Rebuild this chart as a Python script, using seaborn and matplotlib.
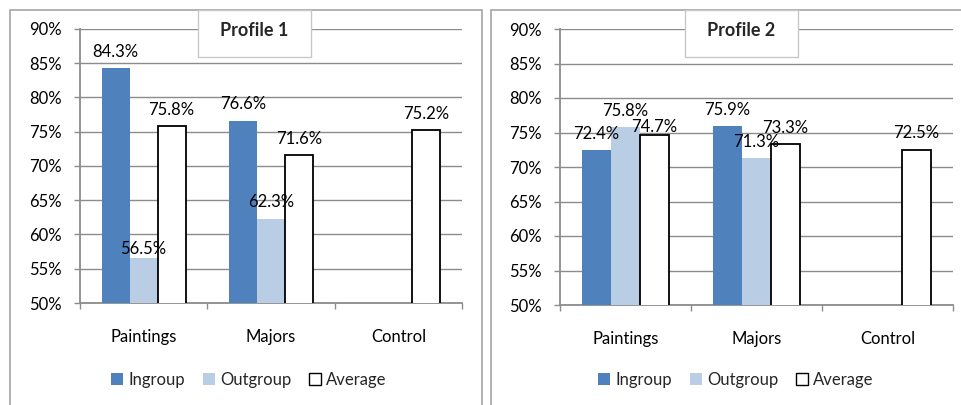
import numpy as np
import pandas as pd
import matplotlib
matplotlib.use("Agg")
import matplotlib.pyplot as plt
from matplotlib.patches import Rectangle, Patch
from matplotlib.ticker import FuncFormatter, FixedLocator
import seaborn as sns

# ---- data ----
categories = ["Paintings", "Majors", "Control"]
groups = ["Ingroup", "Outgroup", "Average"]
profile_titles = ["Profile 1", "Profile 2"]

p1_ingroup = [84.3, 76.6, np.nan]
p1_outgroup = [56.5, 62.3, np.nan]
p1_average = [75.8, 71.6, 75.2]

p2_ingroup = [72.4, 75.9, np.nan]
p2_outgroup = [75.8, 71.3, np.nan]
p2_average = [74.7, 73.3, 72.5]

y_ticks = [50, 55, 60, 65, 70, 75, 80, 85, 90]

colors = {"Ingroup": "#4F81BD", "Outgroup": "#B9CDE5", "Average": "#FFFFFF"}
grid_gray = "#8C8C8C"
frame_gray = "#A6A6A6"

# labels that sit closer to their bar to stay clear of a neighbour's label
label_pad = {("Profile 1", "Outgroup", "Paintings"): 1,
             ("Profile 2", "Average", "Paintings"): 0}
default_pad = 6

sns.set_theme(style="white")
plt.rcParams["font.family"] = ["Lato", "DejaVu Sans"]

W, H = 962, 405
fig = plt.figure(figsize=(W / 100, H / 100), dpi=100)
fig.patch.set_facecolor("white")


def fx(px):
    return px / W


def fy(py):
    return 1 - py / H


def make_frame(long_df, ax_box, frame_box, title_box, legend_center, title):
    # outer chart frame
    fx0, fy0, fx1, fy1 = frame_box
    fig.add_artist(Rectangle((fx(fx0), fy(fy1)), fx(fx1 - fx0), (fy1 - fy0) / H,
                             transform=fig.transFigure, fill=False,
                             edgecolor=frame_gray, lw=1.2, zorder=1))
    x0, y0, x1, y1 = ax_box
    ax = fig.add_axes([fx(x0), fy(y1), fx(x1 - x0), (y1 - y0) / H])
    ax.set_zorder(2)
    ax.patch.set_alpha(0)

    sns.barplot(data=long_df, x="category", y="value", hue="group",
                order=categories, hue_order=groups, palette=colors,
                width=0.66, gap=0, errorbar=None, saturation=1,
                legend=False, ax=ax, zorder=3)

    for cont, g in zip(ax.containers, groups):
        for bar in cont:
            if g == "Average":
                bar.set_edgecolor("black")
                bar.set_linewidth(1.3)
            else:
                bar.set_edgecolor("none")
        for bar in cont:
            h = bar.get_height()
            if np.isnan(h):
                continue
            cat = categories[int(round(bar.get_x() + bar.get_width() / 2))]
            pad = label_pad.get((title, g, cat), default_pad)
            ax.annotate(f"{h:.1f}%", (bar.get_x() + bar.get_width() / 2, h),
                        xytext=(0, pad), textcoords="offset points",
                        ha="center", va="bottom", fontsize=12,
                        color="black", zorder=5)

    ax.set_ylim(50, 90)
    ax.set_xlim(-0.5, 2.5)
    ax.yaxis.set_major_locator(FixedLocator(y_ticks))
    ax.yaxis.set_major_formatter(FuncFormatter(lambda v, p: f"{v:.0f}%"))
    ax.grid(axis="y", color=grid_gray, lw=1.0, zorder=0)
    ax.set_axisbelow(True)
    ax.set_xlabel("")
    ax.set_ylabel("")
    for s in ["top", "right"]:
        ax.spines[s].set_visible(False)
    for s in ["left", "bottom"]:
        ax.spines[s].set_color(grid_gray)
        ax.spines[s].set_linewidth(1.3)
    ax.tick_params(axis="y", which="major", left=True, length=4, width=1,
                   color=grid_gray, pad=9, labelsize=12, labelcolor="black")
    ax.tick_params(axis="x", which="major", bottom=False, pad=13,
                   labelsize=12, labelcolor="black")
    ax.set_xticks([-0.5, 0.5, 1.5, 2.5], minor=True)
    ax.tick_params(axis="x", which="minor", bottom=True, length=4, width=1,
                   color=grid_gray)

    # title box
    tx0, ty0, tx1, ty1 = title_box
    fig.add_artist(Rectangle((fx(tx0), fy(ty1)), fx(tx1 - tx0), (ty1 - ty0) / H,
                             transform=fig.transFigure, facecolor="white",
                             edgecolor="#C8C8C8", lw=1.0, zorder=6))
    fig.text(fx((tx0 + tx1) / 2), fy((ty0 + ty1) / 2 - 3), title,
             ha="center", va="center", fontsize=13, fontweight="bold",
             zorder=7)

    handles = [Patch(facecolor=colors[g],
                     edgecolor="black" if g == "Average" else "none",
                     lw=1.0, label=g) for g in groups]
    lx, ly = legend_center
    fig.legend(handles=handles, loc="center", bbox_to_anchor=(fx(lx), fy(ly)),
               ncol=3, frameon=False, fontsize=12, handlelength=0.7,
               handleheight=0.7, handletextpad=0.3, columnspacing=1.1)
    return ax


def long_frame(ing, outg, avg):
    rows = []
    for g, vals in zip(groups, [ing, outg, avg]):
        for c, v in zip(categories, vals):
            rows.append({"category": c, "group": g, "value": v})
    return pd.DataFrame(rows)


df1 = long_frame(p1_ingroup, p1_outgroup, p1_average)
df2 = long_frame(p2_ingroup, p2_outgroup, p2_average)

make_frame(df1, (80, 29, 462, 303), (10, 10, 482, 420), (198, 10, 311, 57),
           (249, 380), profile_titles[0])
make_frame(df2, (560, 29, 953, 305), (491, 10, 975, 420), (685, 10, 798, 57),
           (736, 380), profile_titles[1])

fig.savefig("out.png", dpi=100, facecolor="white")
